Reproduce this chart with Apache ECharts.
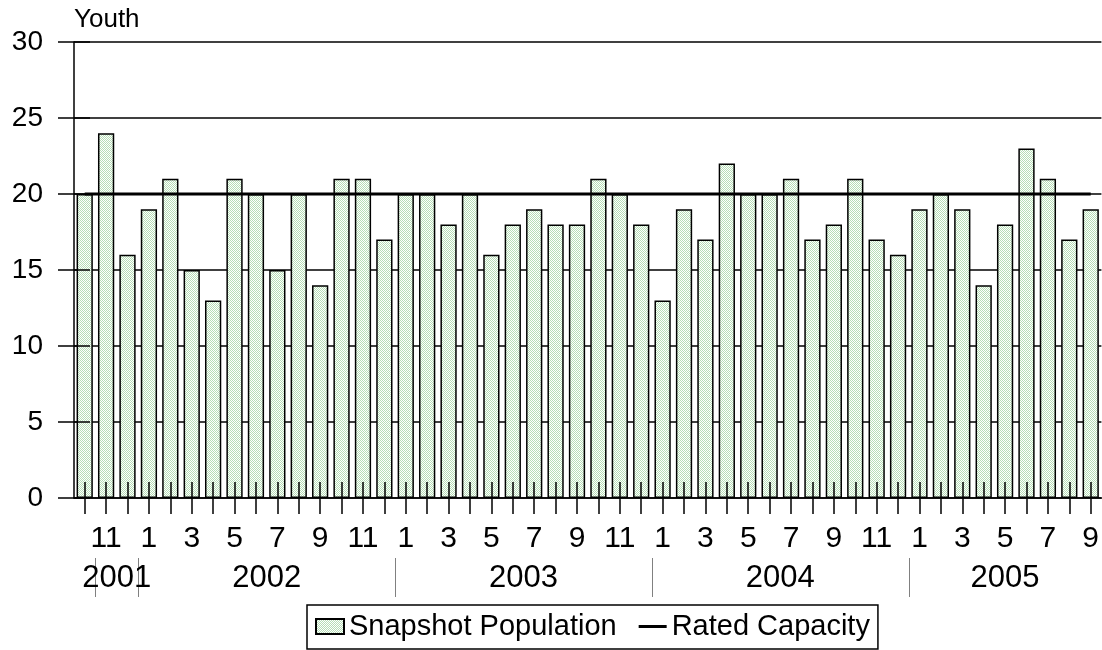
<!DOCTYPE html>
<html>
<head>
<meta charset="utf-8">
<script src="https://cdn.jsdelivr.net/npm/echarts@6/dist/echarts.min.js"></script>
<style>
html,body{margin:0;padding:0;background:#fff;}
#chart{width:1102px;height:650px;}
</style>
</head>
<body>
<div id="chart"></div>
<script>
// ---- data ----
const monthLabels = ['10','11','12',
  '1','2','3','4','5','6','7','8','9','10','11','12',
  '1','2','3','4','5','6','7','8','9','10','11','12',
  '1','2','3','4','5','6','7','8','9','10','11','12',
  '1','2','3','4','5','6','7','8','9'];
const yearLabels = ['', '2001','2001',
  '2002','2002','2002','2002','2002','2002','2002','2002','2002','2002','2002','2002',
  '2003','2003','2003','2003','2003','2003','2003','2003','2003','2003','2003','2003',
  '2004','2004','2004','2004','2004','2004','2004','2004','2004','2004','2004','2004',
  '2005','2005','2005','2005','2005','2005','2005','2005','2005'];
const snapshotPopulation = [20,24,16,19,21,15,13,21,20,15,20,14,21,21,17,
  20,20,18,20,16,18,19,18,18,21,20,18,
  13,19,17,22,20,20,21,17,18,21,17,16,
  19,20,19,14,18,23,21,17,19];
const ratedCapacity = [20,20,20,20,20,20,20,20,20,20,20,20,20,20,20,
  20,20,20,20,20,20,20,20,20,20,20,20,
  20,20,20,20,20,20,20,20,20,20,20,20,
  20,20,20,20,20,20,20,20,20];
const yTicks = {min: 0, max: 30, interval: 5};
const yTitle = 'Youth';
const seriesNames = ['Snapshot Population', 'Rated Capacity'];

// ---- year groups derived from year labels ----
const yearBoundaries = [];
const yearCenters = [];
const yearCenterText = {};
(function () {
  let start = 0;
  for (let i = 1; i <= yearLabels.length; i++) {
    if (i === yearLabels.length || yearLabels[i] !== yearLabels[start]) {
      if (yearLabels[start] !== '') {
        const c = (start + i) / 2;
        yearCenters.push(c);
        yearCenterText[c] = yearLabels[start];
      }
      if (i < yearLabels.length) yearBoundaries.push(i);
      start = i;
    }
  }
})();

function makePattern() {
  const c = document.createElement('canvas');
  c.width = 2; c.height = 2;
  const g = c.getContext('2d');
  g.fillStyle = '#ffffff'; g.fillRect(0, 0, 2, 2);
  g.fillStyle = '#b6deb6'; g.fillRect(0, 0, 1, 1); g.fillRect(1, 1, 1, 1);
  return c;
}

const FONT = 'Liberation Sans, Arial, sans-serif';
const chart = echarts.init(document.getElementById('chart'), null, {renderer: 'canvas'});
chart.setOption({
  animation: false,
  backgroundColor: '#ffffff',
  textStyle: {fontFamily: FONT, color: '#000'},
  grid: {left: 74, top: 42, width: 1032, height: 456, containLabel: false},
  legend: {
    data: [
      {name: seriesNames[0], icon: 'rect'},
      {name: seriesNames[1], icon: 'path://M0,0 L28,0 L28,3 L0,3 Z', itemStyle: {color: '#000'}}
    ],
    left: 307, top: 605,
    orient: 'horizontal',
    borderColor: '#000', borderWidth: 1.5,
    padding: [7, 8, 8, 8],
    itemGap: 22, itemWidth: 28, itemHeight: 15,
    textStyle: {fontFamily: FONT, fontSize: 29, color: '#000'}
  },
  xAxis: [
    {
      type: 'category', data: monthLabels, position: 'bottom',
      axisLine: {show: true, lineStyle: {color: '#000', width: 1.5}},
      axisTick: {show: true, alignWithLabel: true, interval: 0, length: 16, lineStyle: {color: '#000', width: 1.5}},
      axisLabel: {interval: function (i) { return i % 2 === 1; }, margin: 26, fontSize: 30, color: '#000', fontFamily: FONT},
      splitLine: {show: false}
    },
    {
      type: 'category', data: monthLabels, position: 'bottom', z: 10,
      axisLine: {show: false},
      axisTick: {show: true, inside: true, alignWithLabel: true, interval: 0, length: 16, lineStyle: {color: '#000', width: 1.5}},
      axisLabel: {show: false},
      splitLine: {show: false}
    },
    {
      type: 'value', min: 0, max: yearLabels.length, position: 'bottom', offset: 60,
      axisLine: {show: false},
      axisTick: {show: true, customValues: yearBoundaries, length: 39, lineStyle: {color: '#808080', width: 1}},
      axisLabel: {customValues: yearCenters, formatter: function (v) { return yearCenterText[v] || ''; },
        margin: 5, fontSize: 31, color: '#000', fontFamily: FONT},
      splitLine: {show: false}
    }
  ],
  yAxis: [
    {
      type: 'value', min: yTicks.min, max: yTicks.max, interval: yTicks.interval, position: 'left',
      name: yTitle, nameLocation: 'end', nameGap: 9,
      nameTextStyle: {fontSize: 26, align: 'left', verticalAlign: 'bottom', color: '#000', fontFamily: FONT},
      axisLine: {show: true, lineStyle: {color: '#000', width: 1.5}},
      axisTick: {show: true, length: 16, lineStyle: {color: '#000', width: 1.5}},
      axisLabel: {margin: 31, fontSize: 28, color: '#000', fontFamily: FONT},
      splitLine: {show: true, lineStyle: {color: '#000', width: 1.5}}
    },
    {
      type: 'value', min: yTicks.min, max: yTicks.max, interval: yTicks.interval, position: 'left', z: 10,
      axisLine: {show: false},
      axisTick: {show: true, inside: true, length: 16, lineStyle: {color: '#000', width: 1.5}},
      axisLabel: {show: false},
      splitLine: {show: false}
    }
  ],
  series: [
    {
      name: seriesNames[0], type: 'bar', xAxisIndex: 0, yAxisIndex: 0,
      data: snapshotPopulation, barCategoryGap: '24%',
      itemStyle: {color: {image: makePattern(), repeat: 'repeat'}, borderColor: '#000', borderWidth: 1.5},
      emphasis: {disabled: true}
    },
    {
      name: seriesNames[1], type: 'line', xAxisIndex: 0, yAxisIndex: 0,
      data: ratedCapacity, symbol: 'none', z: 5,
      lineStyle: {color: '#000', width: 3}, itemStyle: {color: '#000'},
      emphasis: {disabled: true}
    }
  ]
});
</script>
</body>
</html>
